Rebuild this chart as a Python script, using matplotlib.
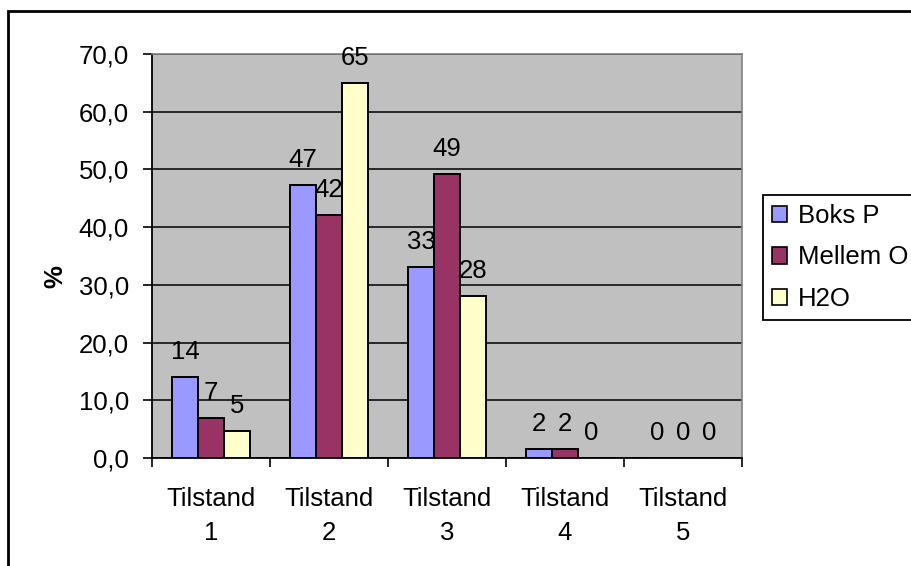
import numpy as np
import matplotlib.pyplot as plt
from matplotlib.patches import Patch, Rectangle
from matplotlib.ticker import FuncFormatter, FixedLocator

plt.rcParams["font.family"] = ["Liberation Sans", "DejaVu Sans"]

categories = ["Tilstand\n1", "Tilstand\n2", "Tilstand\n3", "Tilstand\n4", "Tilstand\n5"]
series_names = ["Boks P", "Mellem O", "H2O"]
boks_p = [14.0, 47.3, 33.1, 1.6, 0.0]
mellem_o = [6.9, 42.1, 49.2, 1.6, 0.0]
h2o = [4.6, 65.0, 28.0, 0.0, 0.0]
colors = ["#9999FF", "#993366", "#FFFFCC"]

FS = 18.5
W, H = 911, 566
fig = plt.figure(figsize=(W / 100, H / 100), dpi=100)
ax = fig.add_axes([152 / W, 1 - 458 / H, 590 / W, 404 / H])
ax.set_facecolor("#C0C0C0")

x = np.arange(len(categories))
width = 0.22
for j, (vals, col) in enumerate(zip([boks_p, mellem_o, h2o], colors)):
    pos = x + (j - 1) * width
    ax.bar(pos, vals, width, color=col, edgecolor="black", linewidth=1.4, zorder=3)
    for px, v in zip(pos, vals):
        ax.annotate(f"{v:.0f}", (px, v), xytext=(0, 13), textcoords="offset points",
                    ha="center", va="baseline", fontsize=FS, zorder=4)

ax.set_xlim(-0.5, 4.5)
ax.set_ylim(0, 70)
ax.set_yticks(np.arange(0, 71, 10))
ax.yaxis.set_major_formatter(FuncFormatter(lambda v, p: f"{v:.1f}".replace(".", ",")))
ax.grid(axis="y", color="black", linewidth=1.1, zorder=1)

ax.set_xticks(x)
ax.set_xticklabels(categories, linespacing=1.5)
ax.xaxis.set_minor_locator(FixedLocator(np.arange(-0.5, 5, 1)))
ax.tick_params(axis="x", which="major", length=0, pad=21, labelsize=FS)
ax.tick_params(axis="x", which="minor", length=6.5, width=1.2, direction="out")
ax.tick_params(axis="y", length=6.5, width=1.2, direction="out", pad=10, labelsize=FS)

for side in ("top", "right"):
    ax.spines[side].set_color("#808080")
    ax.spines[side].set_linewidth(1.2)
for side in ("left", "bottom"):
    ax.spines[side].set_color("black")
    ax.spines[side].set_linewidth(1.3)

ax.set_ylabel("%", fontsize=FS, fontweight="bold")
ax.yaxis.set_label_coords(-0.144, 0.45)

handles = [Patch(facecolor=c, edgecolor="black", linewidth=1.2) for c in colors]
leg = fig.legend(handles, series_names, loc="upper left",
                 bbox_to_anchor=(763 / W, 1 - 195 / H), fontsize=FS,
                 handlelength=0.6, handleheight=0.6, handletextpad=0.4,
                 labelspacing=0.68, borderpad=0.35, borderaxespad=0,
                 fancybox=False, edgecolor="black", framealpha=1)
leg.get_frame().set_linewidth(1.3)

# chart border, clipped by the figure on the right and bottom
fig.patches.append(Rectangle((8 / W, -0.05), 1.1, 1 - 11 / H + 0.05, transform=fig.transFigure,
                             fill=False, edgecolor="black", linewidth=2))

fig.savefig("out.png", dpi=100)
